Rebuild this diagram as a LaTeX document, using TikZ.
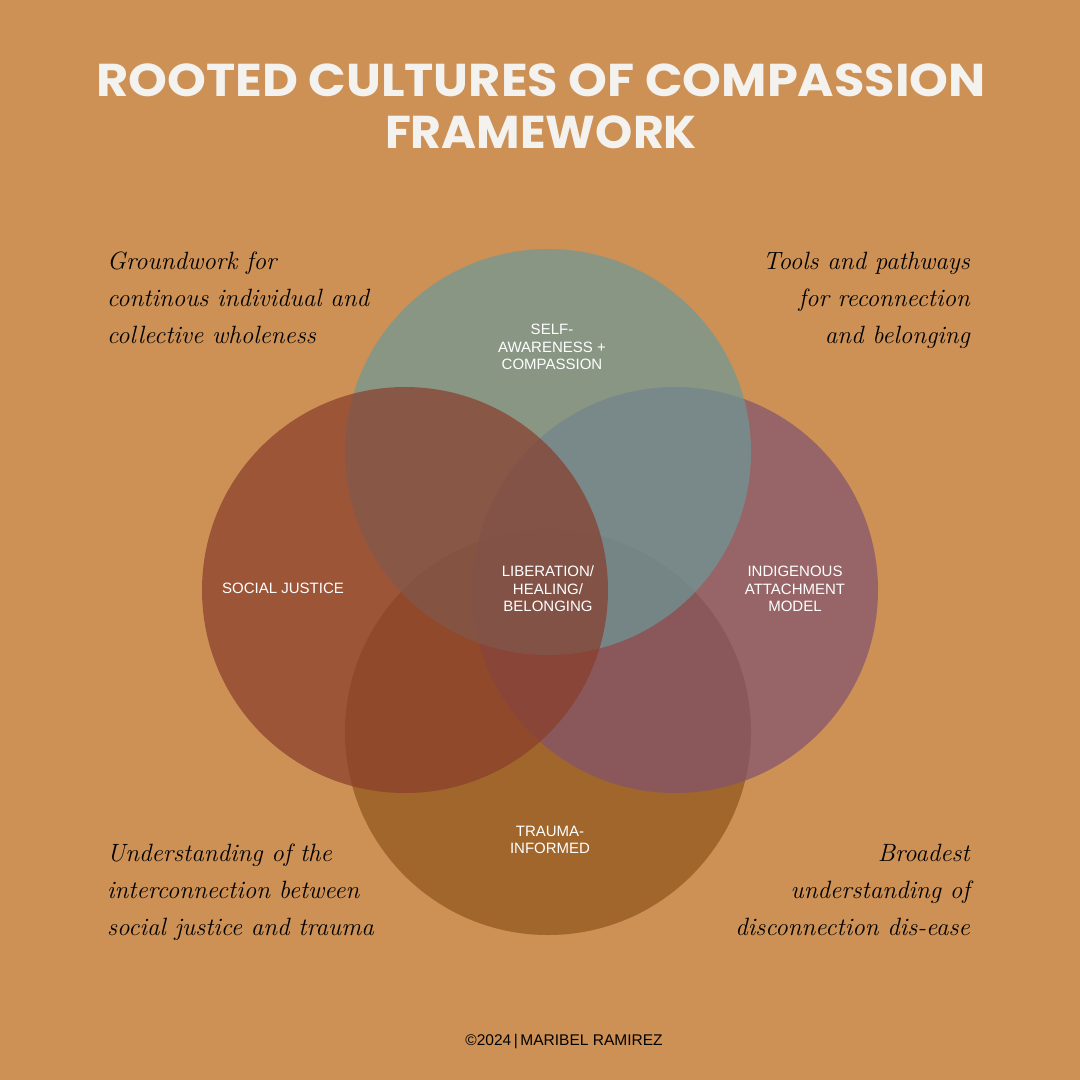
\documentclass[tikz,border=0pt]{standalone}
\usepackage{fontspec}
\newfontfamily\titlefont{Poppins}
\newfontfamily\labelfont{Liberation Sans}
\definecolor{bgc}{HTML}{CD9055}
\definecolor{topc}{HTML}{6D9998}
\definecolor{leftc}{HTML}{8A3D2C}
\definecolor{rightc}{HTML}{81536F}
\definecolor{bottomc}{HTML}{8D551A}
\definecolor{titlec}{HTML}{F4F2EF}
\tikzset{
  venn/.style={fill opacity=0.7, draw=none},
  title/.style={font=\titlefont\bfseries\fontsize{46}{52}\selectfont, text=titlec, align=center, inner sep=0},
  circlab/.style={font=\labelfont\fontsize{15}{17.5}\selectfont, text=white, align=center, inner sep=0},
  script/.style={font=\itshape\fontsize{25}{37}\selectfont, text=black, inner sep=0},
  credit/.style={font=\labelfont\fontsize{15.5}{17}\selectfont, text=black, inner sep=0}
}
\begin{document}
\begin{tikzpicture}[x=1pt,y=-1pt]
\fill[bgc] (0,0) rectangle (1080,1080);
\useasboundingbox (0,0) rectangle (1080,1080);
% circles: bottom, right, top, left
\fill[venn, bottomc] (548,732) circle[radius=203];
\fill[venn, rightc] (675,590) circle[radius=203];
\fill[venn, topc] (548,452) circle[radius=203];
\fill[venn, leftc] (405,590) circle[radius=203];
% title
\node[title] (t1) at (541,80) {\scalebox{1.075}[1]{ROOTED CULTURES OF COMPASSION}};
\node[title] (t2) at (541,132) {\scalebox{1.03}[1]{FRAMEWORK}};
% circle labels
\node[circlab] (self) at (552,347) {SELF-\\AWARENESS +\\COMPASSION};
\node[circlab] (lib) at (548,589) {LIBERATION/\\HEALING/\\BELONGING};
\node[circlab] (soc) at (283,588) {SOCIAL JUSTICE};
\node[circlab] (ind) at (795,589) {INDIGENOUS\\ATTACHMENT\\MODEL};
\node[circlab] (tra) at (550,840) {TRAUMA-\\INFORMED};
% script notes
\node[script, align=left, anchor=north west] (tl) at (107,252) {Groundwork for\\continous individual and\\collective wholeness};
\node[script, align=right, anchor=north east] (tr) at (970,252) {Tools and pathways\\for reconnection\\and belonging};
\node[script, align=left, anchor=north west] (bl) at (107,844) {Understanding of the\\interconnection between\\social justice and trauma};
\node[script, align=right, anchor=north east] (br) at (970,844) {Broadest\\understanding of\\disconnection dis-ease};
% credit
\node[credit] (cr) at (564,1042) {\textcopyright 2024\,|\,MARIBEL RAMIREZ};
\end{tikzpicture}
\end{document}
